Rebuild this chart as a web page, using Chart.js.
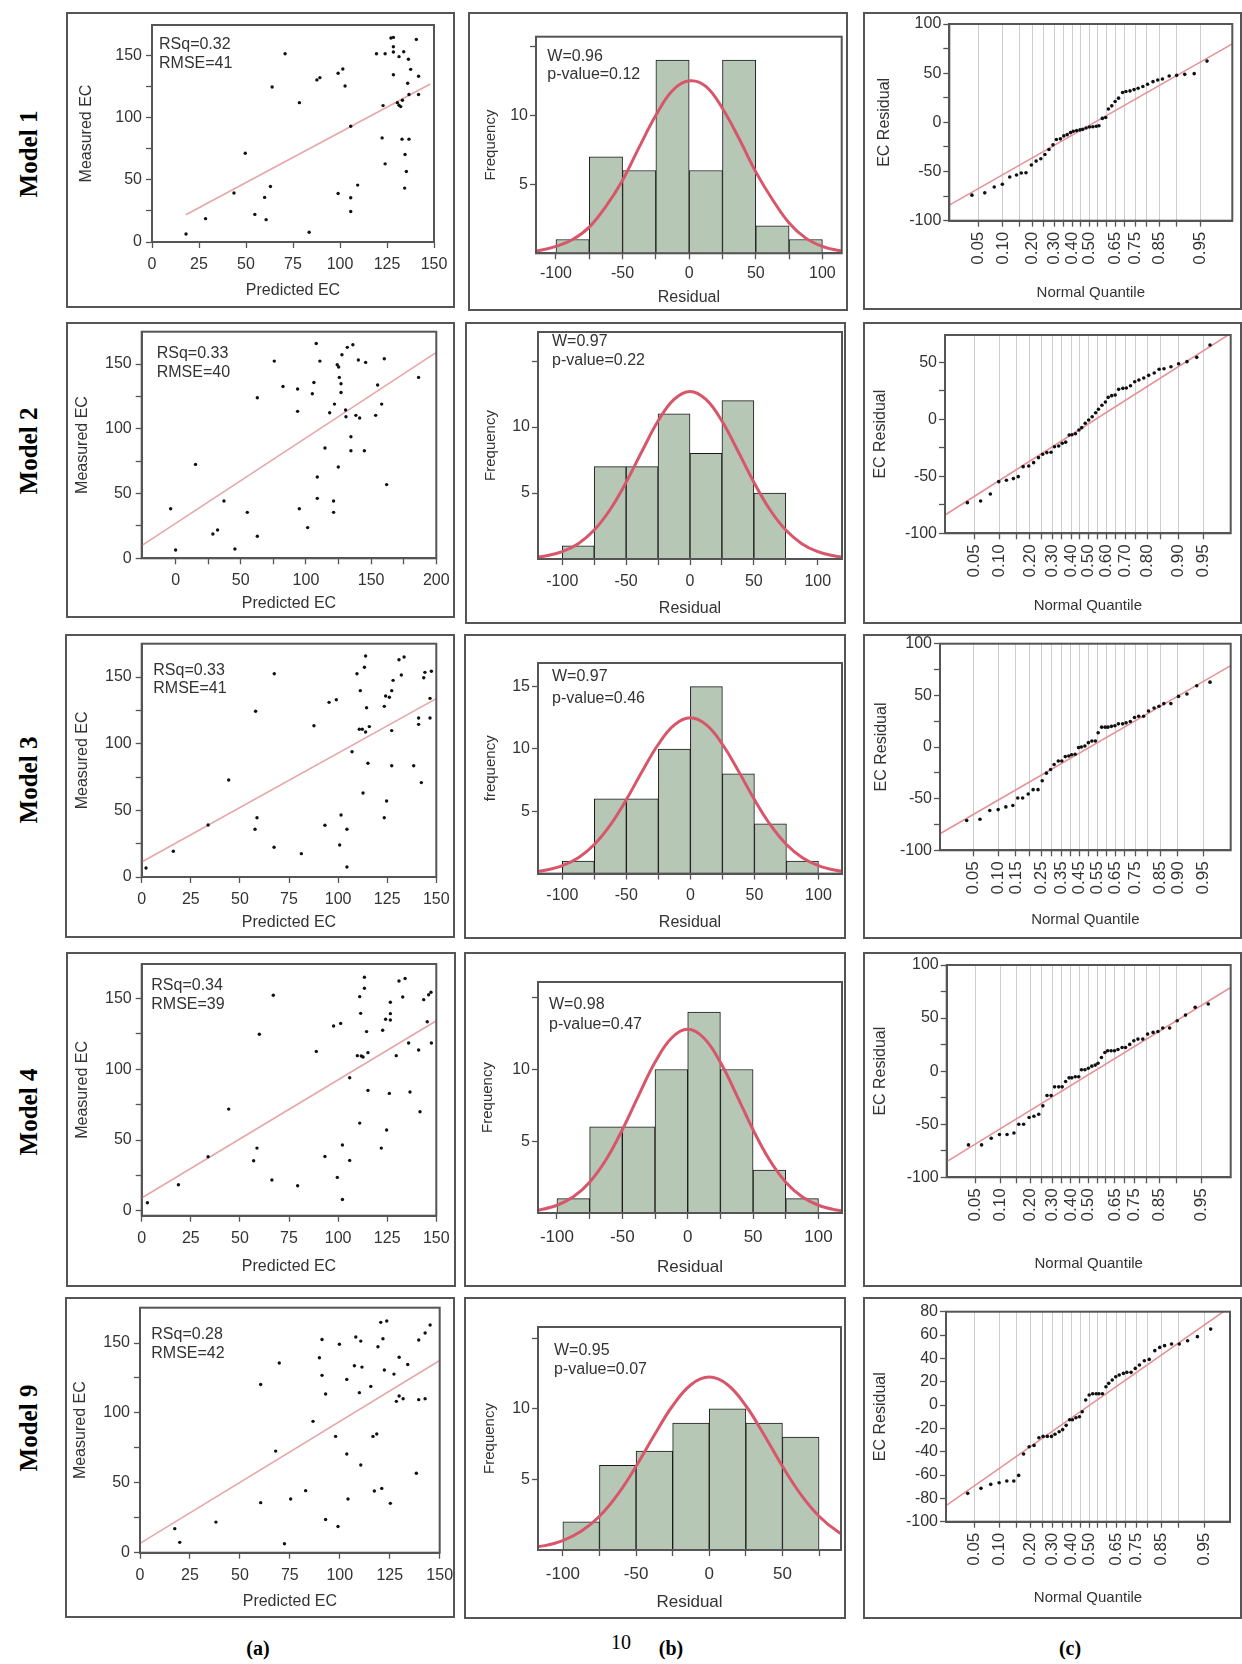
<!DOCTYPE html>
<html><head><meta charset="utf-8">
<script src="https://cdn.jsdelivr.net/npm/chart.js@4/dist/chart.umd.min.js"></script>
<style>
body{margin:0;background:#fff;width:1242px;height:1664px;position:relative;overflow:hidden;}
.frame{position:absolute;box-sizing:border-box;border:2px solid #555;}
canvas{position:absolute;}
.model{position:absolute;font-family:"Liberation Serif",serif;font-weight:bold;font-size:25px;transform:translate(-50%,-50%) rotate(-90deg);white-space:nowrap;color:#000;}
.cap{position:absolute;font-family:"Liberation Serif",serif;font-size:20px;transform:translate(-50%,-50%);color:#000;}
</style></head><body>
<script>
// ---------------- DATA ----------------
const modelNames = ["Model 1","Model 2","Model 3","Model 4","Model 9"];
const rsqText  = ["RSq=0.32","RSq=0.33","RSq=0.33","RSq=0.34","RSq=0.28"];
const rmseText = ["RMSE=41","RMSE=40","RMSE=41","RMSE=39","RMSE=42"];
const wText    = ["W=0.96","W=0.97","W=0.97","W=0.98","W=0.95"];
const pText    = ["p-value=0.12","p-value=0.22","p-value=0.46","p-value=0.47","p-value=0.07"];
const histYTitle = ["Frequency","Frequency","frequency","Frequency","Frequency"];

// (a) Predicted vs measured EC
const m1Pred=[18.1,28.5,43.6,49.6,54.7,59.9,60.7,63.0,63.9,70.8,78.4,83.6,87.7,89.3,99.0,101.5,99.0,102.7,105.7,105.7,105.7,109.4,119.4,122.4,122.9,124.0,124.0,127.1,128.4,128.4,128.4,128.4,131.4,130.5,131.4,132.3,133.2,133.9,133.0,134.6,135.3,134.4,136.4,136.7,136.7,136.0,137.6,140.6,141.8,141.8];
const m1Meas=[6.4,18.8,39.4,71.5,22.2,35.9,18,44.7,124.8,151.6,112.2,7.8,130.5,132.3,135.8,139.3,39.1,125.6,93.2,35.6,24.6,45.8,151.6,83.8,109.8,151.6,62.9,164.2,164.7,157.2,153,134.7,149.2,112.2,110.1,109,114.1,153.2,82.8,70.5,56.8,43.4,147.1,82.8,118.7,127.8,139,163.1,133.4,118.7];
const m2Pred=[-3.8,0,15.3,28.6,32.2,37.1,45.5,55,62.7,62.7,75.7,82.4,93.6,93.6,94.9,101.3,104.9,106.1,107.9,108.7,108.7,110.7,114.6,118.2,121.9,121.2,121.2,124,125.1,125.6,126.9,126.9,127.6,124.8,130.4,130.7,131.7,134.5,134.5,136,138.3,140.2,141.2,144.8,145.8,153.5,155,158.1,160.1,161.9,186.4];
const m2Meas=[38.3,6.4,72.5,18.8,21.9,44.3,7.2,35.5,17,124,152.3,132.7,130.7,113.5,38.3,23.7,127.1,135.8,165.9,62.8,46.3,152.3,85.2,112.4,119.1,44.3,35.5,149.5,147.7,139.7,134.8,128.1,157.2,70.5,114.5,109.3,162.9,93.9,83.1,164.9,110.4,153.1,108.3,83.1,151.3,110.4,133.8,119.1,154.1,56.9,139.7];
const m3Pred=[2.2,16.1,33.8,44.3,57.7,58.7,58,67.4,67.5,81.3,87.7,93.3,95.4,99.1,100.8,101.5,104.5,104.5,107.1,109.6,111.3,110.8,112.3,112.7,113.4,114,114,114.5,115.2,115.9,123.5,123.5,124.2,124.7,126.1,127.3,127.3,127.3,128,131,132.2,133.6,138.5,141,141,142.4,143.6,144.2,146.8,146.8,147.5];
const m3Meas=[6.8,19.3,39,72.8,35.8,44.5,124.3,22.3,152.5,17.5,113.5,38.8,131,133,24,46.5,35.8,7.5,94,152.5,139.8,110.8,110.8,63,157.3,165.8,108.8,127,85.3,112.8,128,44.5,135.8,57,134.8,139.8,109.8,83.5,147.5,163,151.5,165,83.5,119.3,114.5,70.8,149.5,153.5,119.3,134,154.3];
const m4Pred=[2.9,18.7,33.8,44.3,57,58.7,59.9,66.3,67,79.4,88.9,93.3,97.7,101.3,99.6,102.2,102.2,105.9,105.9,109.8,111,111,111.5,111.8,112.7,113.4,113.4,114.5,115.2,115.2,122.7,122,124.2,124.7,126.6,126.6,126.6,126.1,129.6,131,132.9,134.1,135.9,136.6,141,141.7,143.6,145.4,146.1,147.5,147.3];
const m4Meas=[5.7,18.4,38.2,71.9,35.4,44.3,124.8,21.7,152.4,17.7,112.7,38.4,130.7,132.5,23.6,46.5,8,35.6,94.1,109.7,151.4,62,139.6,109.4,108.7,157.3,165.1,126.7,85.1,111.8,127.6,44.3,135.4,57.1,134.9,139.4,147.4,83,109.7,162.5,151.2,164.2,118.6,84,113.7,70,149.3,133.7,152.8,118.6,154.5];
const m9Pred=[17.4,19.9,38,60.4,60.4,67.9,69.7,72.3,75.4,82.9,86.6,89.8,91.1,91.1,92.9,92.9,97.9,99.1,99.8,103.5,103.5,104.1,107.3,108,109.8,110.5,110.5,111.1,115.5,116.6,117.3,118.5,119.1,120.5,121,121.6,122.3,123.5,125.3,127.1,128.3,129.7,129.7,131.7,134,138.3,139.5,139.5,142.7,142.7,145.2];
const m9Meas=[17.2,7.4,21.9,120.4,35.8,72.7,135.7,6.4,38.4,44.4,94,139.5,126.9,152.6,113.5,23.8,83.2,18.8,149.1,124,70.6,38.4,133.8,154.3,114.5,62.7,151.4,132.8,119,83.2,44.1,84.9,147.4,164.8,46,153.1,130.7,165.8,35.3,127.8,108.3,139.8,112.1,110.2,134.7,56.8,109.5,152.2,110.2,157.2,162.9];
const fitX=[[18,148],[-26,200],[0,150],[0,150],[0,150]];
const fitY=[[22,127.2],[9.8,159],[11.3,133.8],[9,134.4],[6.7,137.6]];
const scXTicks=[[0,25,50,75,100,125,150],[0,25,50,75,100,125,150,175,200],[0,25,50,75,100,125,150],[0,25,50,75,100,125,150],[0,25,50,75,100,125,150]];
const scXLabels=[[0,25,50,75,100,125,150],[0,50,100,150,200],[0,25,50,75,100,125,150],[0,25,50,75,100,125,150],[0,25,50,75,100,125,150]];
const scYTicks=[0,25,50,75,100,125,150];
const scYLabels=[0,50,100,150];

// (b) Residual histograms
const binCenters=[-87.5,-62.5,-37.5,-12.5,12.5,37.5,62.5,87.5];
const m1Freq=[1,7,6,14,6,14,2,1];
const m2Freq=[1,7,7,11,8,12,5,null];
const m3Freq=[1,6,6,10,15,8,4,1];
const m4Freq=[1,6,6,10,14,10,3,1];
const m9Freq=[2,6,7,9,10,9,8,null];
const curveX=[-125,-112.5,-100,-87.5,-75,-62.5,-50,-37.5,-25,-12.5,0,12.5,25,37.5,50,62.5,75,87.5,100,112.5,125];
const m1Curve=[0.08,0.2,0.5,1.0,1.9,3.4,5.3,7.7,10.0,11.8,12.5,12.1,10.5,8.3,5.9,3.9,2.2,1.1,0.5,0.2,0.08];
const m2Curve=[0.07,0.25,0.56,1.16,2.19,3.75,5.82,8.18,10.45,12.09,12.7,12.09,10.45,8.18,5.82,3.75,2.19,1.16,0.56,0.25,0.07];
const m3Curve=[0.12,0.29,0.64,1.28,2.34,3.91,5.94,8.23,10.38,11.93,12.5,11.93,10.38,8.23,5.94,3.91,2.34,1.28,0.64,0.29,0.12];
const m4Curve=[0.09,0.23,0.54,1.13,2.15,3.71,5.8,8.2,10.5,12.18,12.8,12.18,10.5,8.2,5.8,3.71,2.15,1.13,0.54,0.23,0.09];
const m9Curve=[0.13,0.31,0.67,1.32,2.39,3.94,5.93,8.15,10.22,11.71,12.25,11.71,10.22,8.15,5.93,3.94,2.39,1.32,0.67,0.31,0.13];
const hiXTicks=[[-100,-75,-50,-25,0,25,50,75,100],[-100,-75,-50,-25,0,25,50,75,100],[-100,-75,-50,-25,0,25,50,75,100],[-100,-75,-50,-25,0,25,50,75,100],[-100,-75,-50,-25,0,25,50,75]];
const hiXLabels=[[-100,-50,0,50,100],[-100,-50,0,50,100],[-100,-50,0,50,100],[-100,-50,0,50,100],[-100,-50,0,50]];
const hiYTicks=[5,10,15];
const hiYLabels=[[5,10],[5,10],[5,10,15],[5,10],[5,10]];

// (c) Normal quantile plots
const qqZ=[-1.74,-1.55,-1.41,-1.29,-1.18,-1.08,-1.01,-0.94,-0.86,-0.79,-0.72,-0.66,-0.60,-0.54,-0.49,-0.43,-0.38,-0.33,-0.28,-0.24,-0.19,-0.14,-0.10,-0.05,0,0.05,0.10,0.14,0.19,0.24,0.28,0.33,0.38,0.43,0.49,0.54,0.60,0.66,0.72,0.79,0.86,0.94,1.01,1.08,1.18,1.29,1.41,1.55,1.74];
const m1Res=[-74,-71.7,-65.7,-63,-55.6,-53.5,-51.5,-51.2,-43.4,-39.4,-37,-32.7,-27.6,-22.9,-17.5,-16.8,-13.8,-12.5,-10.4,-9.1,-8.4,-7.7,-7.1,-5.7,-4.7,-4.4,-4,-3.4,4,5,13.5,16.8,21.2,24.6,30.3,31.3,32,33.3,34.7,36.4,38.7,41.4,43.1,44.1,47.1,47.8,48.8,49.5,62.3];
const m2Res=[-73.1,-71.6,-65.5,-54.7,-53.5,-52,-50.3,-41.5,-40.9,-38,-33.6,-30.7,-29.2,-28.9,-24,-23.4,-21,-20,-13.7,-13.5,-12.6,-9.4,-7.3,-3.5,-0.6,2.3,5.8,8.8,12.3,15.2,19.3,20.8,21.3,26.3,27.2,27.5,29.5,33,34.5,36.3,38.6,40.6,43.9,44.4,46.2,48.8,50.6,54.4,65.2];
const m3Res=[-71.2,-69.9,-61.5,-60.6,-58,-56.7,-49.4,-49.4,-45.5,-41.3,-41.3,-32.7,-25.3,-21.8,-17,-13.5,-13.5,-9.3,-8.7,-7.5,-7,-0.6,0,1,4.2,5.8,5.8,13.8,19.2,19.2,19.2,20,20.5,22.4,22.4,23.4,24.7,28.5,29.8,29.8,34.9,37.8,39.4,42,42,49,51.3,59.3,62.8];
const m4Res=[-69.5,-69.5,-63.2,-59.7,-59.7,-58.2,-50,-50,-43.7,-42.5,-40.6,-32.7,-23,-23,-14.8,-14.8,-14.8,-9.7,-6.3,-6.3,-5.3,-5.3,1.3,1.3,2.8,4.7,5.7,7.5,12.9,17.6,19.2,19.2,19.2,20.4,22.3,22.3,25.2,28.6,30.2,30.2,34.9,36.5,37.4,40.6,40.6,47.5,52.8,60.1,63.2];
const m9Res=[-75.7,-71.4,-68,-66.6,-65.1,-65.1,-60.3,-42,-35.7,-34.6,-28,-26.9,-26.9,-26.9,-25.1,-22.9,-21.1,-17.4,-12.6,-12.6,-10.9,-10,-5.7,4.3,8.6,9.7,9.7,9.7,9.7,15.7,18.6,21.4,24.3,25.7,27.1,28,28,31.4,34.3,38,39.1,46.6,49.4,50.9,52.3,52.3,55.1,58.6,65.1];
const qqLineX=[[-2.075,2.114],[-2.061,2.04],[-2.122,2.036],[-2.056,2.066],[-2.051,2.017]];
const qqLineY=[[-84.2,79.8],[-83.9,75.5],[-84,78.8],[-85.2,78.9],[-86.3,84]];
const qqGridP=["0.05","0.10","0.15","0.20","0.25","0.30","0.35","0.40","0.45","0.50","0.55","0.60","0.65","0.70","0.75","0.80","0.85","0.90","0.95"];
const qqGridZ=[-1.645,-1.282,-1.036,-0.842,-0.674,-0.524,-0.385,-0.253,-0.126,0,0.126,0.253,0.385,0.524,0.674,0.842,1.036,1.282,1.645];
const qqXLabels=[
 ["0.05","0.10","0.20","0.30","0.40","0.50","0.65","0.75","0.85","0.95"],
 ["0.05","0.10","0.20","0.30","0.40","0.50","0.60","0.70","0.80","0.90","0.95"],
 ["0.05","0.10","0.15","0.25","0.35","0.45","0.55","0.65","0.75","0.85","0.90","0.95"],
 ["0.05","0.10","0.20","0.30","0.40","0.50","0.65","0.75","0.85","0.95"],
 ["0.05","0.10","0.20","0.30","0.40","0.50","0.65","0.75","0.85","0.95"]];
const qqYTicks=[[-100,-75,-50,-25,0,25,50,75,100],[-100,-75,-50,-25,0,25,50],[-100,-75,-50,-25,0,25,50,75,100],[-100,-75,-50,-25,0,25,50,75,100],[-100,-80,-60,-40,-20,0,20,40,60,80]];
const qqYLabels=[[-100,-50,0,50,100],[-100,-50,0,50],[-100,-50,0,50,100],[-100,-50,0,50,100],[-100,-80,-60,-40,-20,0,20,40,60,80]];

// ---------------- LAYOUT (pixel geometry) ----------------
const SC=[
 {f:[66,12,455,308],a:[152,25,434,242],yt:86.7,xt:290.5,tp:7,n:[7,20,18.3],x:[0,150],y:[0,174.7]},
 {f:[66,322,455,618],a:[141.7,331.7,436.3,558.3],yt:83,xt:604,tp:7,n:[15,21.6,19],x:[-26,200],y:[0,175]},
 {f:[65,634,455,938],a:[141.7,643.7,436.3,877],yt:83,xt:922.5,tp:7,n:[11.6,26.6,18.4],x:[0,150],y:[0,175]},
 {f:[66,952,456,1287],a:[141.7,964,436.3,1215.7],yt:83,xt:1266.5,tp:7,n:[9.6,21.7,19.3],x:[0,150],y:[-3.5,174.5]},
 {f:[65,1297,455,1618],a:[140,1307.7,439.7,1552.7],yt:80.7,xt:1602,tp:7,n:[11.3,27.3,19],x:[0,150],y:[0,175.3]}];
const HI=[
 {f:[468,12,848,311],a:[536,36.7,841.7,253.3],yt:490.7,xt:298,tp:5,fs:16,n:[11.3,20,17.6],x:[-115,114.5],y:[0,15.7]},
 {f:[465,322,846,624],a:[538,332,842,559],yt:490.4,xt:609,tp:7,fs:16,n:[14,10,19],x:[-119,119],y:[0,17.2]},
 {f:[464,634,846,939],a:[538,663,842,873.6],yt:490.4,xt:923,tp:6,fs:16,n:[14,14,22],x:[-119,118.4],y:[0,16.9]},
 {f:[464,952,846,1287],a:[538,982,842,1213],yt:488,xt:1267,tp:8,fs:17,n:[11,23,20],x:[-114.5,118],y:[0,16.1]},
 {f:[464,1297,846,1619],a:[538,1327,841,1550],yt:490,xt:1602,tp:8,fs:17,n:[16,24,19],x:[-117,90],y:[0,15.8]}];
const QQ=[
 {f:[863,12,1242,310],a:[949.3,24,1232.3,220.7],yt:885,xt:292.5,x:[-2.075,2.114],y:[-100,100]},
 {f:[863,322,1242,624],a:[945,335,1230.7,533.3],yt:880.7,xt:605.5,x:[-2.061,2.037],y:[-100,74]},
 {f:[863,634,1242,939],a:[940,643.7,1230.7,850.3],yt:881.7,xt:920,x:[-2.122,2.036],y:[-100,100]},
 {f:[863,952,1242,1287],a:[946.7,965,1230.7,1177.3],yt:880.7,xt:1264,x:[-2.056,2.066],y:[-100,100]},
 {f:[863,1297,1242,1619],a:[946,1311.7,1230,1521.7],yt:880.7,xt:1598,x:[-2.051,2.017],y:[-100,80]}];
const rowCenters=[154,451,780,1112,1428];

// ---------------- RENDER ----------------
const FF='"Liberation Sans", Arial, sans-serif';
Chart.defaults.font.family=FF;
Chart.defaults.color='#333';

Chart.register({id:'plotBox',afterDatasetsDraw(chart){const a=chart.chartArea,c=chart.ctx;c.save();c.strokeStyle='#555';c.lineWidth=2;c.strokeRect(a.left,a.top,a.right-a.left,a.bottom-a.top);c.restore();}});
Chart.register({id:'noteText',afterDraw(chart,args,o){if(!o||!o.lines)return;const c=chart.ctx,a=chart.chartArea;c.save();c.font=(o.size||16)+'px '+FF;c.fillStyle='#333';c.textBaseline='middle';c.textAlign='left';o.lines.forEach((t,i)=>c.fillText(t,a.left+o.dx,a.top+o.dy+i*o.gap));c.restore();}});

function panel(p){
  const [x0,y0,x1,y1]=p.f;
  const d=document.createElement('div');d.className='frame';
  Object.assign(d.style,{left:x0+'px',top:y0+'px',width:(x1-x0)+'px',height:(y1-y0)+'px'});
  document.body.appendChild(d);
  const c=document.createElement('canvas');c.width=Math.round(x1-x0);c.height=Math.round(y1-y0);
  c.style.left=x0+'px';c.style.top=y0+'px';document.body.appendChild(c);
  return c;
}
function axis(p,o){
  const [x0,y0,x1,y1]=p.f,[l,t,r,b]=p.a;
  const lh=o.titleSize*1.2;
  const horiz=o.dir==='x';
  return {
    type:'linear',min:o.min,max:o.max,offset:false,
    afterBuildTicks:s=>{s.ticks=o.ticks.map(v=>({value:v}));},
    afterFit:s=>{ if(horiz){s.height=y1-b;s.paddingLeft=0;s.paddingRight=0;} else {s.width=l-x0;s.paddingTop=0;s.paddingBottom=0;} },
    ticks:{autoSkip:false,font:{family:FF,size:o.tickSize},color:'#333',padding:o.pad,
      minRotation:o.rot||0,maxRotation:o.rot||0,callback:o.cb},
    grid:{display:true,drawOnChartArea:!!o.grid,color:'#cdcdcd',lineWidth:1,tickLength:6,tickColor:'#555',tickWidth:1.3,offset:false},
    border:{display:true,color:'#555',width:2},
    title:{display:true,text:o.title,color:'#333',font:{family:FF,size:o.titleSize},
      padding: horiz?{top:0,bottom:(y1-p.xt)-lh/2}:{top:(p.yt-x0)-lh/2,bottom:0}}
  };
}
function baseOpts(p){
  const [x0,y0,x1,y1]=p.f,[l,t,r,b]=p.a;
  return {animation:false,responsive:false,devicePixelRatio:1,events:[],
    layout:{padding:{left:0,top:t-y0,right:x1-r,bottom:0}},
    plugins:{legend:{display:false},tooltip:{enabled:false}}};
}
const lab=(list)=>(v)=>list.includes(v)?String(v):'';

const predArr=[m1Pred,m2Pred,m3Pred,m4Pred,m9Pred], measArr=[m1Meas,m2Meas,m3Meas,m4Meas,m9Meas];
const freqArr=[m1Freq,m2Freq,m3Freq,m4Freq,m9Freq], curveArr=[m1Curve,m2Curve,m3Curve,m4Curve,m9Curve];
const resArr=[m1Res,m2Res,m3Res,m4Res,m9Res];

for(let i=0;i<5;i++){
  // ---- scatter ----
  let p=SC[i], c=panel(p), o=baseOpts(p);
  o.plugins.noteText={lines:[rsqText[i],rmseText[i]],dx:p.n[0],dy:p.n[1],gap:p.n[2],size:16};
  o.scales={
    x:axis(p,{dir:'x',min:p.x[0],max:p.x[1],ticks:scXTicks[i],cb:lab(scXLabels[i]),title:'Predicted EC',titleSize:16,tickSize:16,pad:p.tp}),
    y:axis(p,{dir:'y',min:p.y[0],max:p.y[1],ticks:scYTicks,cb:lab(scYLabels),title:'Measured EC',titleSize:16,tickSize:16,pad:4})};
  new Chart(c,{type:'scatter',data:{datasets:[
    {data:predArr[i].map((x,k)=>({x,y:measArr[i][k]})),pointRadius:1.7,pointBackgroundColor:'#111',pointBorderWidth:0,order:1},
    {type:'line',data:fitX[i].map((x,k)=>({x,y:fitY[i][k]})),borderColor:'#e5a7aa',borderWidth:1.6,pointRadius:0,order:2}
  ]},options:o});

  // ---- histogram ----
  p=HI[i]; c=panel(p); o=baseOpts(p);
  o.plugins.noteText={lines:[wText[i],pText[i]],dx:p.n[0],dy:p.n[1],gap:p.n[2],size:16};
  o.scales={
    x:axis(p,{dir:'x',min:p.x[0],max:p.x[1],ticks:hiXTicks[i],cb:lab(hiXLabels[i]),title:'Residual',titleSize:p.fs,tickSize:p.fs,pad:p.tp}),
    y:axis(p,{dir:'y',min:p.y[0],max:p.y[1],ticks:hiYTicks,cb:lab(hiYLabels[i]),title:histYTitle[i],titleSize:15,tickSize:16,pad:2})};
  const bars=[];binCenters.forEach((x,k)=>{if(freqArr[i][k]!==null)bars.push({x,y:freqArr[i][k]});});
  new Chart(c,{type:'bar',data:{datasets:[
    {type:'bar',data:bars,backgroundColor:'#b6c7b6',borderColor:'#1a1a1a',borderWidth:1,borderSkipped:false,barPercentage:1,categoryPercentage:1,order:2},
    {type:'line',data:curveX.map((x,k)=>({x,y:curveArr[i][k]})),borderColor:'#d8566a',borderWidth:3,pointRadius:0,tension:0.4,order:1}
  ]},options:o});

  // ---- normal quantile ----
  p=QQ[i]; c=panel(p); o=baseOpts(p);
  const labs=qqXLabels[i];
  o.scales={
    x:axis(p,{dir:'x',min:p.x[0],max:p.x[1],ticks:qqGridZ,grid:true,rot:90,
      cb:(v)=>{const k=qqGridZ.indexOf(v);return (k>=0&&labs.includes(qqGridP[k]))?qqGridP[k]:'';},
      title:'Normal Quantile',titleSize:15,tickSize:17,pad:5}),
    y:axis(p,{dir:'y',min:p.y[0],max:p.y[1],ticks:qqYTicks[i],cb:lab(qqYLabels[i]),title:'EC Residual',titleSize:16,tickSize:16,pad:2})};
  new Chart(c,{type:'scatter',data:{datasets:[
    {data:qqZ.map((x,k)=>({x,y:resArr[i][k]})),pointRadius:1.8,pointBackgroundColor:'#111',pointBorderWidth:0,order:1},
    {type:'line',data:qqLineX[i].map((x,k)=>({x,y:qqLineY[i][k]})),borderColor:'#e69197',borderWidth:1.6,pointRadius:0,order:2}
  ]},options:o});

  const m=document.createElement('div');m.className='model';m.textContent=modelNames[i];
  m.style.left='29px';m.style.top=rowCenters[i]+'px';document.body.appendChild(m);
}
[["(a)",258,1648,true],["10",621,1642,false],["(b)",671,1648,true],["(c)",1070,1648,true]].forEach(([t,x,y,bold])=>{
  const e=document.createElement('div');e.className='cap';e.textContent=t;e.style.left=x+'px';e.style.top=y+'px';
  if(bold)e.style.fontWeight='bold';document.body.appendChild(e);
});
</script>
</body></html>
